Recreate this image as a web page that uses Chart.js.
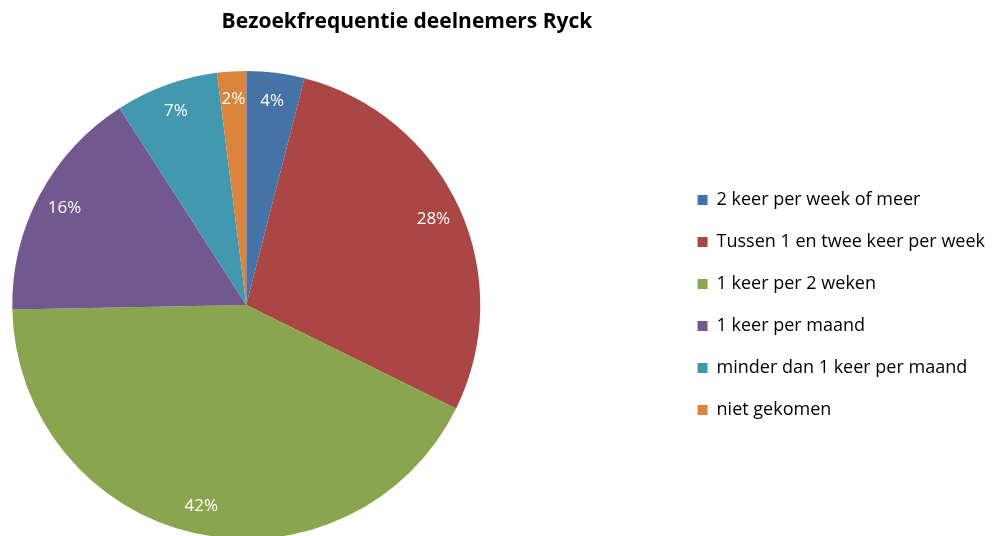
<!DOCTYPE html>
<html>
<head>
<meta charset="utf-8">
<script src="https://cdn.jsdelivr.net/npm/chart.js@4"></script>
<style>
  html, body { margin: 0; padding: 0; background: #fff; overflow: hidden; width: 998px; height: 536px; }
  /* canvas iets breder en naar links geschoven, zodat de taart links staat */
  #wrap { position: absolute; left: -181px; top: 0; width: 1176px; height: 540px; }
</style>
</head>
<body>
<div id="wrap"><canvas id="grafico"></canvas></div>
<script>
// categorieen en aandelen (procent)
const categorieen = [
    '2 keer per week of meer',
    'Tussen 1 en twee keer per week',
    '1 keer per 2 weken',
    '1 keer per maand',
    'minder dan 1 keer per maand',
    'niet gekomen'
];
const aandelen = [4.0, 28.3, 42.4, 16.2, 7.1, 2.0];
const kleuren = ['#4572A7', '#AA4643', '#89A54E', '#71588F', '#4198AF', '#DB843D'];
const titel = 'Bezoekfrequentie deelnemers Ryck';

const lettertype = "'Open Sans', 'Liberation Sans', sans-serif";

// procenten in de taartpunten
const procentLabels = {
    id: 'procentLabels',
    afterDatasetsDraw(chart) {
        const ctx = chart.ctx;
        const meta = chart.getDatasetMeta(0);
        const data = chart.data.datasets[0].data;
        const totaal = data.reduce((a, b) => a + b, 0);
        ctx.save();
        ctx.fillStyle = '#fff';
        ctx.font = '17px ' + lettertype;
        ctx.textAlign = 'center';
        ctx.textBaseline = 'middle';
        meta.data.forEach((arc, i) => {
            const p = arc.getProps(['x', 'y', 'startAngle', 'endAngle', 'outerRadius'], true);
            const mid = (p.startAngle + p.endAngle) / 2;
            const r = p.outerRadius * 0.88;
            const tekst = Math.round(data[i] / totaal * 100) + '%';
            ctx.fillText(tekst, p.x + Math.cos(mid) * r, p.y + Math.sin(mid) * r);
        });
        ctx.restore();
    }
};

const ctx = document.getElementById('grafico');

new Chart(ctx, {
    type: 'pie',
    data: {
        labels: categorieen,
        datasets: [{
            data: aandelen,
            backgroundColor: kleuren,
            borderWidth: 0
        }]
    },
    options: {
        responsive: true,
        maintainAspectRatio: false,
        animation: false,
        layout: {
            padding: { left: 0, right: 0, top: 0, bottom: 1 }
        },
        plugins: {
            title: {
                display: true,
                text: titel,
                color: '#000',
                font: { family: lettertype, size: 21, weight: 'bold' },
                padding: { top: 9.4, bottom: 36.4 }
            },
            legend: {
                position: 'right',
                align: 'center',
                fullSize: false,
                labels: {
                    boxWidth: 10,
                    boxHeight: 10,
                    padding: 24,
                    color: '#000',
                    font: { family: lettertype, size: 18 }
                }
            },
            tooltip: { enabled: false }
        }
    },
    plugins: [procentLabels]
});
</script>
</body>
</html>
